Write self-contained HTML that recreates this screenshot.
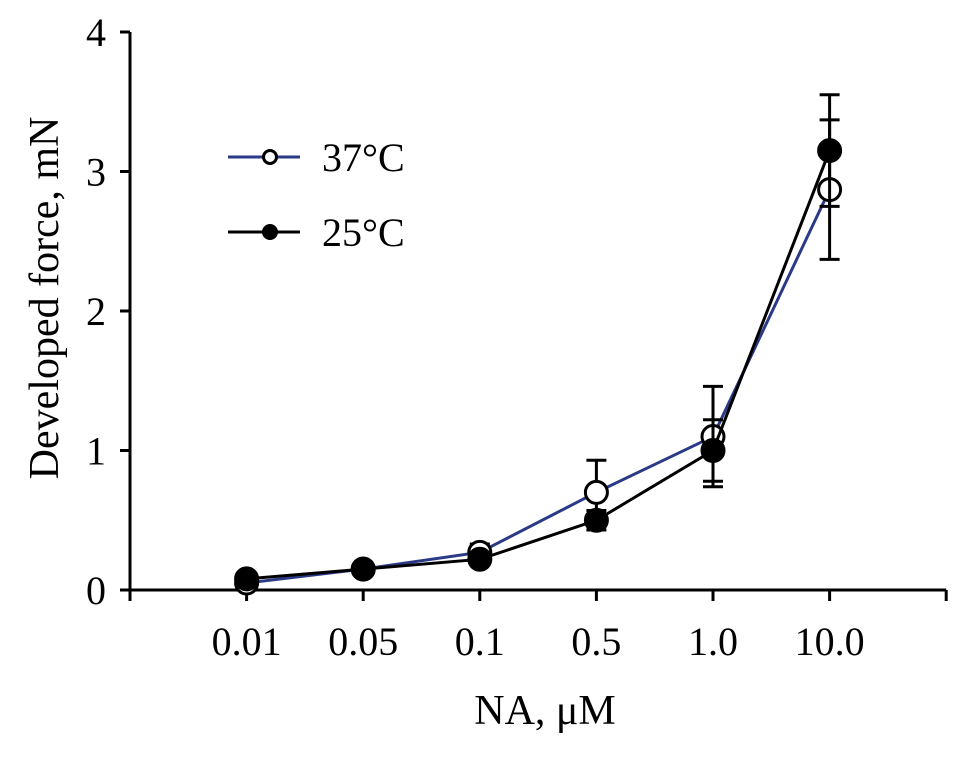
<!DOCTYPE html>
<html><head><meta charset="utf-8"><style>
body{margin:0;background:#fff}
svg text{font-family:"Liberation Serif",serif;fill:#000}
</style></head><body>
<svg id="chart" width="969" height="762" xmlns="http://www.w3.org/2000/svg"></svg>
<script>
const categories=["0.01","0.05","0.1","0.5","1.0","10.0"];
const s37=[0.05,0.15,0.27,0.70,1.10,2.87];
const e37=[0.02,0.03,0.06,0.23,0.36,0.50];
const s25=[0.08,0.15,0.22,0.50,1.00,3.15];
const e25=[0.02,0.03,0.04,0.07,0.22,0.40];
const yTicks=[0,1,2,3,4];
const svg=document.getElementById('chart');
const NS='http://www.w3.org/2000/svg';
const X0=130,STEP=116.6,Y0=590,YS=139.5;
const xs=i=>X0+STEP*(i+1);
const ys=v=>Y0-v*YS;
function mk(t,a,p){const e=document.createElementNS(NS,t);for(const k in a)e.setAttribute(k,a[k]);(p||svg).appendChild(e);return e;}
let g=mk('g',{});


mk('line',{x1:X0,y1:ys(4),x2:X0,y2:Y0,stroke:'#000','stroke-width':3},g);
yTicks.forEach(v=>{mk('line',{x1:X0-10,y1:ys(v),x2:X0,y2:ys(v),stroke:'#000','stroke-width':3},g);
 const t=mk('text',{x:X0-24,y:ys(v)+14,'text-anchor':'end','font-size':40},g);t.textContent=v;
 
 });
let gx=mk('g',{});


mk('line',{x1:X0,y1:Y0,x2:X0+STEP*7,y2:Y0,stroke:'#000','stroke-width':3},gx);
for(let i=0;i<=7;i++)mk('line',{x1:X0+STEP*i,y1:Y0,x2:X0+STEP*i,y2:Y0+11,stroke:'#000','stroke-width':3},gx);
categories.forEach((c,i)=>{const t=mk('text',{x:xs(i),y:655,'text-anchor':'middle','font-size':40},gx);t.textContent=c;
 
 });
let t=mk('text',{x:545,y:724,'text-anchor':'middle','font-size':42});t.textContent='NA, μM';


t=mk('text',{x:0,y:0,'text-anchor':'middle','font-size':42,transform:'translate(58,298) rotate(-90)'});t.textContent='Developed force, mN';


function series(vals,errs,color,fill,name){
 const gs=mk('g',{});
 
 
 vals.forEach((v,i)=>{mk('line',{x1:xs(i),y1:ys(v-errs[i]),x2:xs(i),y2:ys(v+errs[i]),stroke:'#000','stroke-width':3},gs);
  [v-errs[i],v+errs[i]].forEach(e=>mk('line',{x1:xs(i)-10,y1:ys(e),x2:xs(i)+10,y2:ys(e),stroke:'#000','stroke-width':3},gs));});
 mk('polyline',{points:vals.map((v,i)=>xs(i)+','+ys(v)).join(' '),fill:'none',stroke:color,'stroke-width':3},gs);
 vals.forEach((v,i)=>{const c=mk('circle',{cx:xs(i),cy:ys(v),r:11,fill:fill,stroke:'#000','stroke-width':3},gs);
  
  });
}
series(s37,e37,'#2b3a87','#fff','series-37c');
series(s25,e25,'#000','#000','series-25c');
function legend(y,color,fill,label,name){
 const gl=mk('g',{});
 
 
 mk('line',{x1:228,y1:y,x2:300,y2:y,stroke:color,'stroke-width':3},gl);
 mk('circle',{cx:270,cy:y,r:6.5,fill:fill,stroke:'#000','stroke-width':3},gl);
 const tt=mk('text',{x:322,y:y+14,'font-size':40},gl);tt.textContent=label;
}
legend(157,'#2b3a87','#fff','37°C','legend-entry-37c');
legend(232,'#000','#000','25°C','legend-entry-25c');
</script>
</body></html>
